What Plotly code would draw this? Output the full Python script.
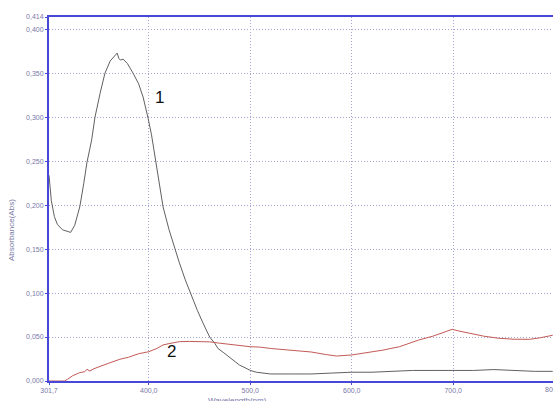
import plotly.graph_objects as go

# Curve 1 (grey)
wl1 = [301.7, 304, 307, 310, 315, 320, 323, 327, 332, 336, 339, 343.7, 347, 352, 356.8, 362, 366,
       368.9, 370.5, 372, 374.8, 379, 384.6, 390, 394.4, 397, 399.3, 402.7, 405, 407.6, 411, 414.1,
       420, 425.6, 430, 436, 442, 448, 453.4, 460, 465, 468.2, 474, 479.7, 485, 489.5, 495, 500,
       506, 512, 520, 540, 560, 580, 600, 620, 640, 660, 680, 700, 720, 740, 760, 780, 798]
abs1 = [0.234, 0.205, 0.187, 0.178, 0.172, 0.170, 0.169, 0.177, 0.198, 0.225, 0.248, 0.274, 0.300,
        0.327, 0.350, 0.364, 0.370, 0.373, 0.367, 0.365, 0.366, 0.361, 0.350, 0.338, 0.323, 0.311,
        0.299, 0.280, 0.264, 0.248, 0.222, 0.198, 0.172, 0.150, 0.135, 0.115, 0.097, 0.080, 0.066,
        0.050, 0.043, 0.037, 0.032, 0.027, 0.022, 0.018, 0.015, 0.012, 0.010, 0.009, 0.008, 0.008,
        0.008, 0.009, 0.010, 0.010, 0.011, 0.012, 0.012, 0.012, 0.012, 0.013, 0.012, 0.011, 0.011]

# Curve 2 (red)
wl2 = [301.7, 310, 317, 320, 325, 332, 337, 339, 342, 346, 352, 360, 371.5, 380, 390, 400, 408, 414,
       420, 430, 440, 450, 460, 470, 480, 490, 500, 510, 520, 540, 560, 575, 585, 600, 615, 630, 647,
       666, 680, 690, 699, 705, 716, 730, 745, 760, 775, 785, 798]
abs2 = [0.000, 0.000, 0.000, 0.002, 0.006, 0.0095, 0.0106, 0.0133, 0.0114, 0.014, 0.0163, 0.020,
        0.0247, 0.027, 0.031, 0.0333, 0.037, 0.041, 0.0425, 0.0447, 0.045, 0.0447, 0.0445, 0.043,
        0.0415, 0.040, 0.039, 0.0385, 0.037, 0.035, 0.033, 0.030, 0.0284, 0.0296, 0.032, 0.035,
        0.039, 0.0466, 0.051, 0.055, 0.0588, 0.057, 0.054, 0.051, 0.0486, 0.0475, 0.0474, 0.049, 0.052]

x_ticks = [301.7, 400, 500, 600, 700]
x_tick_text = ["301,7", "400,0", "500,0", "600,0", "700,0"]
y_ticks = [0, 0.05, 0.1, 0.15, 0.2, 0.25, 0.3, 0.35, 0.4, 0.414]
y_tick_text = ["0,000", "0,050", "0,100", "0,150", "0,200", "0,250", "0,300", "0,350", "0,400", "0,414"]

axis_blue = "#4848d8"
label_col = "#7878a8"
grid_col = "#a4a4d0"
font_fam = "Liberation Sans, Arial, sans-serif"

ML, MR, MT, MB = 49, 0, 17, 20
W, H = 553, 401
plot_w = W - ML - MR
plot_h = H - MT - MB

fig = go.Figure()
fig.add_trace(go.Scatter(x=wl1, y=abs1, mode="lines", line=dict(color="#606060", width=1),
                         showlegend=False, hoverinfo="skip"))
fig.add_trace(go.Scatter(x=wl2, y=abs2, mode="lines", line=dict(color="#c25a55", width=1),
                         showlegend=False, hoverinfo="skip"))

fig.update_layout(
    width=W, height=H,
    margin=dict(l=ML, r=MR, t=MT, b=MB),
    paper_bgcolor="white", plot_bgcolor="white",
    font=dict(family=font_fam, size=7, color=label_col),
    xaxis=dict(range=[301.7, 798.3], tickvals=x_ticks, ticktext=x_tick_text,
               showgrid=True, gridcolor=grid_col, griddash="1px,2px", gridwidth=1,
               showline=True, linecolor=axis_blue, linewidth=2, mirror=True,
               ticks="outside", ticklen=2, tickcolor=axis_blue, zeroline=False,
               automargin=False, tickfont=dict(size=7, color=label_col)),
    yaxis=dict(range=[0, 0.414], tickvals=y_ticks, ticktext=y_tick_text,
               showgrid=True, gridcolor=grid_col, griddash="1px,2px", gridwidth=1,
               showline=True, linecolor=axis_blue, linewidth=2,
               ticks="outside", ticklen=2, tickcolor=axis_blue, zeroline=False,
               automargin=False, tickfont=dict(size=7, color=label_col)),
    annotations=[
        dict(text="1", x=411, y=0.322, xref="x", yref="y", showarrow=False,
             font=dict(size=17, color="#111111", family=font_fam)),
        dict(text="2", x=422, y=0.033, xref="x", yref="y", showarrow=False,
             font=dict(size=17, color="#111111", family=font_fam)),
        dict(text="800,0", x=(554 - ML) / plot_w, y=(H - MB - 390) / plot_h,
             xref="paper", yref="paper", showarrow=False, xanchor="center", yanchor="middle",
             font=dict(size=7, color=label_col, family=font_fam)),
        dict(text="Absorbance(Abs)", x=(12 - ML) / plot_w, y=(H - MB - 230) / plot_h,
             xref="paper", yref="paper", showarrow=False, xanchor="center", yanchor="middle",
             textangle=-90, font=dict(size=8, color=label_col, family=font_fam)),
        dict(text="Wavelength(nm)", x=(237 - ML) / plot_w, y=(H - MB - 400) / plot_h,
             xref="paper", yref="paper", showarrow=False, xanchor="center", yanchor="middle",
             font=dict(size=8, color=label_col, family=font_fam)),
    ],
)

fig.write_html("out.html", config={"displayModeBar": False},
               post_script="document.body.style.margin='0';document.body.style.overflow='hidden';")
